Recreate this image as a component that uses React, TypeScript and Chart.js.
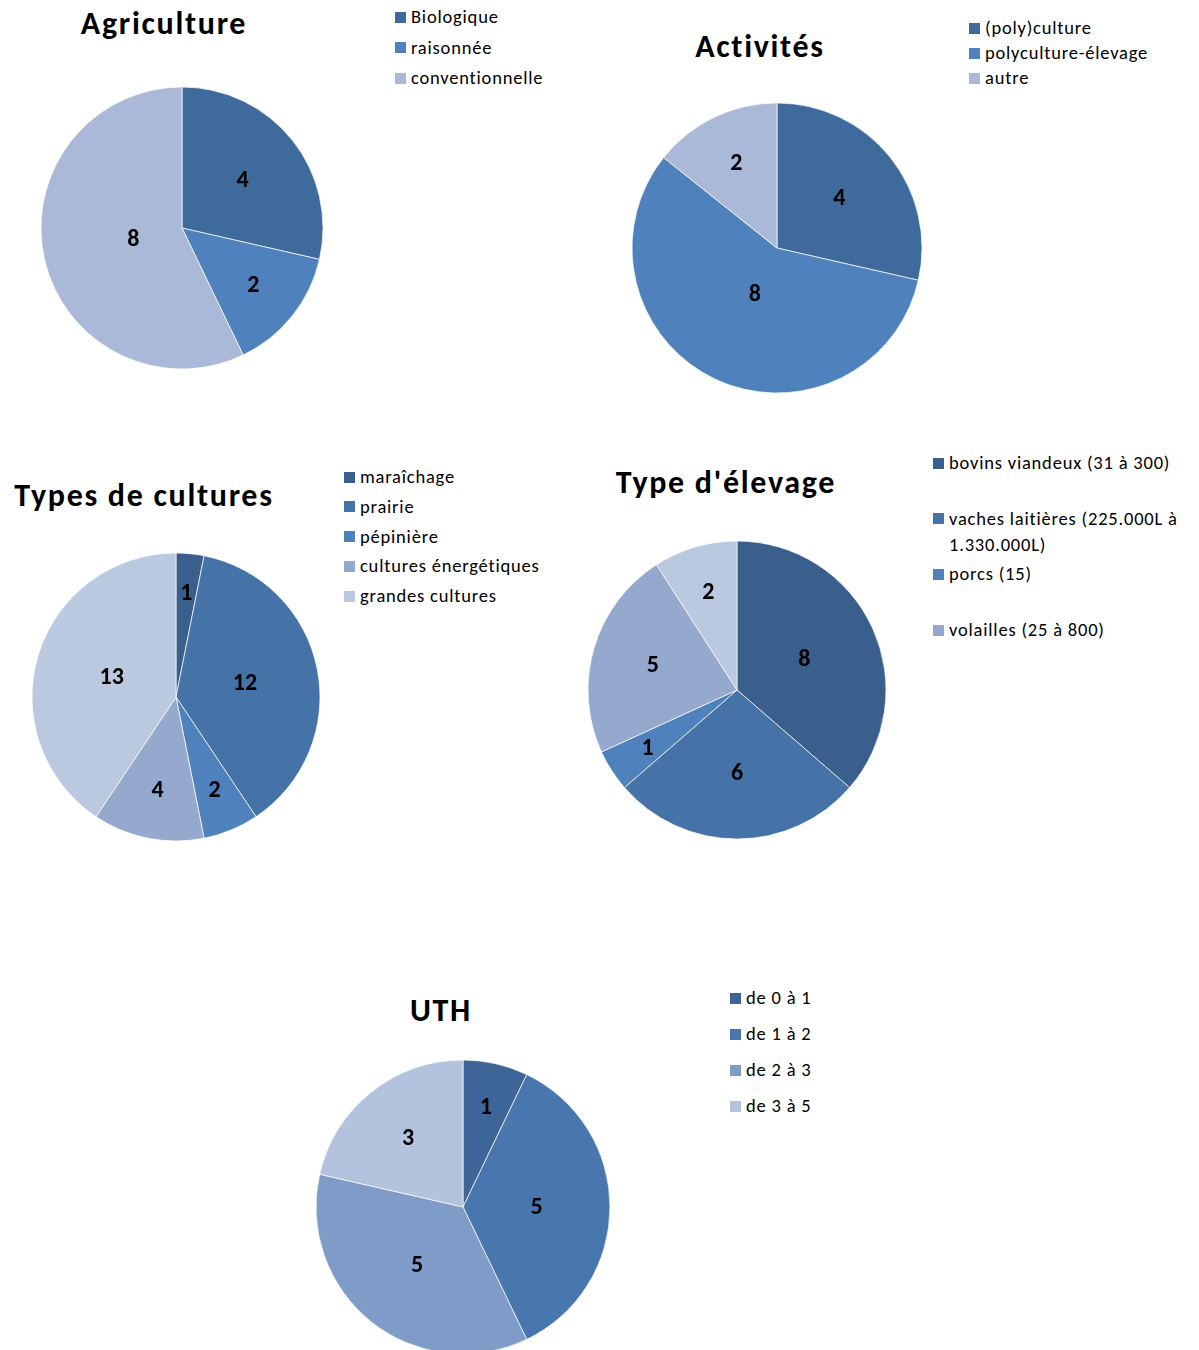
import React, { useEffect, useRef } from "react";
import { Chart, registerables } from "chart.js";

Chart.register(...registerables);

// ---------- data ----------
const agriTitle = "Agriculture";
const agriCategories = ["Biologique", "raisonnée", "conventionnelle"];
const agriValues = [4, 2, 8];

const activTitle = "Activités";
const activCategories = ["(poly)culture", "polyculture-élevage", "autre"];
const activValues = [4, 8, 2];

const culturesTitle = "Types de cultures";
const culturesCategories = ["maraîchage", "prairie", "pépinière", "cultures énergétiques", "grandes cultures"];
const culturesValues = [1, 12, 2, 4, 13];

const elevageTitle = "Type d'élevage";
const elevageCategories = ["bovins viandeux (31 à 300)", "vaches laitières (225.000L à 1.330.000L)", "porcs (15)", "volailles (25 à 800)", ""];
const elevageValues = [8, 6, 1, 5, 2];

const uthTitle = "UTH";
const uthCategories = ["de 0 à 1", "de 1 à 2", "de 2 à 3", "de 3 à 5"];
const uthValues = [1, 5, 5, 3];

// ---------- styles ----------
const FONT = "Carlito, Lato, 'Open Sans', sans-serif";
const threeColors = ["#3F6A9C", "#4F81BD", "#AAB9D7"];
const fiveColors = ["#3A5F8D", "#4573A7", "#4F81BD", "#95A9CF", "#BAC8E0"];
const uthColors = ["#3D6597", "#4877B0", "#7F9BC7", "#B3C3DE"];

const sliceLabels = {
  id: "sliceLabels",
  afterDatasetsDraw(chart: any) {
    const meta = chart.getDatasetMeta(0);
    const values = chart.data.datasets[0].data;
    const ctx = chart.ctx;
    ctx.save();
    ctx.font = `bold 24px ${FONT}`;
    ctx.fillStyle = "#000";
    ctx.textAlign = "center";
    ctx.textBaseline = "middle";
    meta.data.forEach((arc: any, i: number) => {
      const p = arc.getProps(["x", "y", "startAngle", "endAngle", "outerRadius"], true);
      const deg = ((p.endAngle - p.startAngle) * 180) / Math.PI;
      const mid = (p.startAngle + p.endAngle) / 2;
      const d = Math.max(0.3, 0.745 - 0.0019 * deg);
      ctx.fillText(String(values[i]), p.x + Math.cos(mid) * d * p.outerRadius, p.y + Math.sin(mid) * d * p.outerRadius + 1);
    });
    ctx.restore();
  },
};

function Pie({ values, colors, cx, cy, r }: { values: number[]; colors: string[]; cx: number; cy: number; r: number }) {
  const ref = useRef<HTMLCanvasElement>(null);
  const size = 2 * r + 10;
  useEffect(() => {
    if (!ref.current) return;
    const chart = new Chart(ref.current, {
      type: "pie",
      data: {
        labels: values.map((_, i) => String(i)),
        datasets: [
          {
            data: values,
            backgroundColor: colors,
            borderColor: "rgba(255,255,255,0.7)",
            borderWidth: 1,
          },
        ],
      },
      options: {
        responsive: false,
        animation: false,
        radius: r,
        layout: { padding: 0 },
        plugins: { legend: { display: false }, tooltip: { enabled: false } },
      } as any,
      plugins: [sliceLabels],
    });
    return () => chart.destroy();
  }, []);
  return (
    <canvas
      ref={ref}
      width={size}
      height={size}
      style={{ position: "absolute", left: cx - size / 2, top: cy - size / 2, width: size, height: size }}
    />
  );
}

function Title({ text, x, y }: { text: string; x: number; y: number }) {
  return (
    <div
      style={{
        position: "absolute",
        left: x,
        top: y,
        transform: "translate(-50%, -50%)",
        font: `bold 32px ${FONT}`,
        letterSpacing: "1.7px",
        lineHeight: "40px",
        whiteSpace: "nowrap",
        color: "#000",
      }}
    >
      {text}
    </div>
  );
}

function Legend({
  labels,
  colors,
  x,
  y,
  step,
  width,
  count,
  lineHeight = 26,
}: {
  labels: string[];
  colors: string[];
  x: number;
  y: number;
  step: number;
  width?: number;
  count?: number;
  lineHeight?: number;
}) {
  const n = count ?? labels.length;
  return (
    <>
      {labels.slice(0, n).map((lab, i) => (
        <div
          key={i}
          style={{
            position: "absolute",
            left: x,
            top: y + i * step - lineHeight / 2,
            display: "flex",
            alignItems: "flex-start",
            font: `18.5px ${FONT}`,
            letterSpacing: "0.8px",
            lineHeight: `${lineHeight}px`,
            color: "#000",
          }}
        >
          <span
            style={{
              display: "inline-block",
              width: 11,
              height: 11,
              background: colors[i],
              marginTop: (lineHeight - 11) / 2,
              marginRight: 5,
              flex: "none",
            }}
          />
          <span style={{ width: width, whiteSpace: width ? "normal" : "nowrap" }}>{lab}</span>
        </div>
      ))}
    </>
  );
}

export default function App() {
  return (
    <div style={{ position: "absolute", left: 0, top: 0, width: 1199, height: 1350, background: "#fff", overflow: "hidden" }}>
      <Title text={agriTitle} x={164} y={24} />
      <Pie values={agriValues} colors={threeColors} cx={182} cy={228} r={141} />
      <Legend labels={agriCategories} colors={threeColors} x={395} y={17} step={30.5} />

      <Title text={activTitle} x={760} y={47} />
      <Pie values={activValues} colors={threeColors} cx={777} cy={248} r={145} />
      <Legend labels={activCategories} colors={threeColors} x={969} y={28} step={25} />

      <Title text={culturesTitle} x={144} y={496} />
      <Pie values={culturesValues} colors={fiveColors} cx={176} cy={697} r={144} />
      <Legend labels={culturesCategories} colors={fiveColors} x={344} y={477} step={29.8} />

      <Title text={elevageTitle} x={726} y={483} />
      <Pie values={elevageValues} colors={fiveColors} cx={737} cy={690} r={149} />
      <Legend labels={elevageCategories} colors={fiveColors} x={933} y={463} step={55.7} width={250} count={4} />

      <Title text={uthTitle} x={441} y={1011} />
      <Pie values={uthValues} colors={uthColors} cx={463} cy={1207} r={147} />
      <Legend labels={uthCategories} colors={uthColors} x={730} y={998} step={36} />
    </div>
  );
}
